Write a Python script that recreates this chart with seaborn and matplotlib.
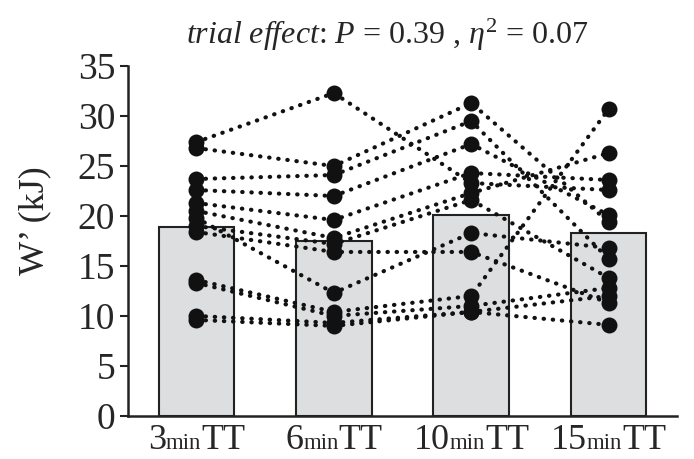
import matplotlib
matplotlib.use("Agg")
import matplotlib.pyplot as plt
import numpy as np
import pandas as pd
import seaborn as sns

# data
durations = ["3", "6", "10", "15"]
bar_means = [18.9, 17.5, 20.1, 18.3]
w_3min = [27.4, 26.8, 23.7, 22.6, 21.3, 20.5, 19.8, 19.0, 18.4, 13.6, 13.3, 10.0, 9.6]
w_6min = [32.3, 25.0, 24.1, 22.0, 19.6, 17.8, 12.3, 17.2, 16.4, 10.4, 10.0, 9.3, 9.0]
w_10min = [23.3, 31.3, 29.5, 27.2, 24.3, 22.3, 18.3, 21.6, 16.4, 12.0, 11.0, 10.4, 10.4]
w_15min = [22.6, 19.4, 15.7, 20.1, 23.6, 26.3, 16.8, 13.8, 11.3, 30.7, 12.8, 12.0, 9.1]
yticks = [0, 5, 10, 15, 20, 25, 30, 35]

series = [w_3min, w_6min, w_10min, w_15min]
long = pd.DataFrame(
    [(pid, pos, v) for pos, vals in enumerate(series) for pid, v in enumerate(vals)],
    columns=["pid", "pos", "W"],
)
bars = pd.DataFrame({"pos": range(len(durations)), "mean": bar_means})

sns.set_theme(style="ticks")
plt.rcParams["font.family"] = ["Liberation Serif", "DejaVu Serif"]
plt.rcParams["mathtext.fontset"] = "custom"
plt.rcParams["mathtext.rm"] = "Liberation Serif"
plt.rcParams["mathtext.it"] = "Liberation Serif:italic"

fig = plt.figure(figsize=(6.94, 4.59), dpi=100)
ax = fig.add_axes([0.184, 0.094, 0.792, 0.762])

sns.barplot(
    data=bars, x="pos", y="mean", native_scale=True, width=0.55,
    color="#dddee0", saturation=1, edgecolor="#222222", linewidth=1.5,
    errorbar=None, ax=ax, zorder=1,
)
for pid, grp in long.groupby("pid"):
    sns.lineplot(
        data=grp, x="pos", y="W", color="#111111", linewidth=3.0,
        linestyle=(0, (0.1, 2.1)), dash_capstyle="round",
        marker="o", markersize=11.5, markeredgewidth=0,
        estimator=None, sort=False, ax=ax, zorder=3,
    )

ax.set_xlim(-0.5, 3.5)
ax.set_ylim(0, 35)
ax.set_yticks(yticks)
ax.set_xticks([])
ax.set_xlabel("")
ax.set_ylabel("")
ax.tick_params(axis="y", labelsize=27, length=6, width=1.5, pad=3, color="#222222")
for side in ["top", "right"]:
    ax.spines[side].set_visible(False)
for side in ["left", "bottom"]:
    ax.spines[side].set_linewidth(1.8)
    ax.spines[side].set_color("#222222")

fig.text(0.05, 0.52, "W\u2019 (kJ)", rotation=90, fontsize=26, ha="center", va="center")
fig.text(
    0.558, 0.905,
    r"$\it{trial\ effect}$: $\it{P}$ = 0.39 , $\it{\eta}^2$ = 0.07",
    fontsize=23, ha="center", va="baseline",
)

# x labels with the small "min"
fig.canvas.draw()
r = fig.canvas.get_renderer()
baseline = 0.021
for i, d in enumerate(durations):
    parts = [(d, 26), ("min", 16.5), ("TT", 26)]
    texts = [fig.text(0, baseline, s, fontsize=fs, ha="left", va="baseline") for s, fs in parts]
    widths = [t.get_window_extent(r).width for t in texts]
    cx = ax.transData.transform((i, 0))[0]
    x0 = cx - sum(widths) / 2
    for t, w in zip(texts, widths):
        t.set_x(x0 / fig.bbox.width)
        x0 += w

fig.savefig("out.png", dpi=100)
